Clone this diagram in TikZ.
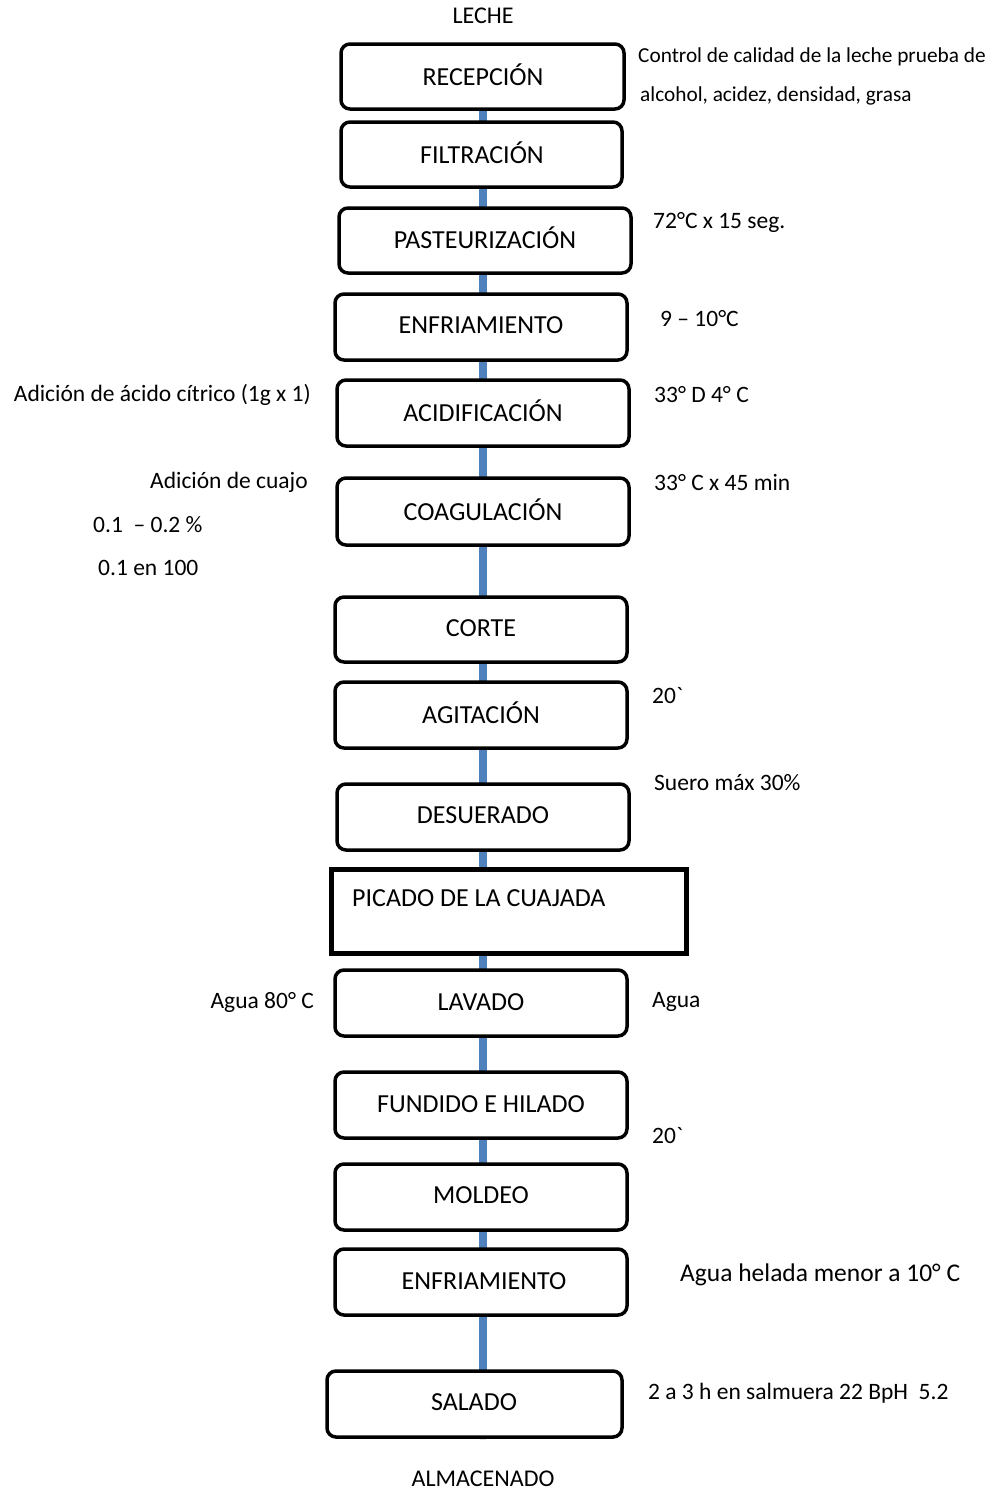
\documentclass[tikz,border=0pt]{standalone}
\usepackage{fontspec}
\setmainfont{Carlito}
\definecolor{flowblue}{HTML}{4F81BD}
\begin{document}
\begin{tikzpicture}[x=1pt,y=-1pt,
  stepbox/.style={draw=black,line width=3.5pt,rounded corners=9pt,fill=white},
  boxtext/.style={font=\fontsize{26}{30}\selectfont,inner sep=0pt},
  side/.style={font=\fontsize{23.5}{28}\selectfont,inner sep=0pt},
  flow/.style={draw=flowblue,line width=8pt}]
\useasboundingbox (0,0) rectangle (994,1492);
% flow line
\coordinate (top) at (483,109);
\coordinate (bot) at (483,1440);
\draw[flow] (top) -- (483,1371);
\draw[draw=black!12,line width=6pt] (483,1437) -- (bot);
% boxes
\draw[stepbox] (341,44) rectangle (624,109);
\draw[stepbox] (341,122) rectangle (622,187);
\draw[stepbox] (339,208) rectangle (631,273);
\draw[stepbox] (335,294) rectangle (627,360);
\draw[stepbox] (337,380) rectangle (629,446);
\draw[stepbox] (337,478) rectangle (629,545);
\draw[stepbox] (335,597) rectangle (627,662);
\draw[stepbox] (335,682) rectangle (627,748);
\draw[stepbox] (337,784) rectangle (629,850);
\draw[draw=black,line width=5pt,fill=white] (331,869) rectangle (686,953);
\draw[stepbox] (335,970) rectangle (627,1036);
\draw[stepbox] (335,1072) rectangle (627,1138);
\draw[stepbox] (335,1164) rectangle (627,1230);
\draw[stepbox] (335,1249) rectangle (627,1315);
\draw[stepbox] (327,1371) rectangle (622,1437);
% box texts
\node[boxtext] (recep) at (483,75) {RECEPCIÓN};
\node[boxtext] (filt) at (482,153) {FILTRACIÓN};
\node[boxtext] (past) at (485,238) {PASTEURIZACIÓN};
\node[boxtext] (enf1) at (481,325) {ENFRIAMIENTO};
\node[boxtext] (acid) at (483,411) {ACIDIFICACIÓN};
\node[boxtext] (coag) at (483,510) {COAGULACIÓN};
\node[boxtext] (corte) at (481,628) {CORTE};
\node[boxtext] (agit) at (481,713) {AGITACIÓN};
\node[boxtext] (desu) at (483,815) {DESUERADO};
\node[boxtext,anchor=west] (pica) at (352,898) {PICADO DE LA CUAJADA};
\node[boxtext] (lava) at (481,1002) {LAVADO};
\node[boxtext] (fund) at (481,1104) {FUNDIDO E HILADO};
\node[boxtext] (mold) at (481,1195) {MOLDEO};
\node[boxtext] (enf2) at (484,1281) {ENFRIAMIENTO};
\node[boxtext] (sala) at (474,1402) {SALADO};
% top / bottom labels
\node[side,font=\fontsize{24}{28}\selectfont] (leche) at (483,16) {LECHE};
\node[side,font=\fontsize{24}{28}\selectfont] (alma) at (483,1479) {ALMACENADO};
% side notes right
\node[side,anchor=west,font=\fontsize{21.3}{26}\selectfont] (n1) at (638,57) {Control de calidad de la leche prueba de};
\node[side,anchor=west,font=\fontsize{21.3}{26}\selectfont] (n2) at (640,96) {alcohol, acidez, densidad, grasa};
\node[side,anchor=west] (n3) at (653,222) {72°C x 15 seg.};
\node[side,anchor=west] (n4) at (660,319) {9 – 10°C};
\node[side,anchor=west] (n5) at (654,395) {33° D 4° C};
\node[side,anchor=west] (n6) at (654,482) {33° C x 45 min};
\node[side,anchor=west] (n7) at (652,696) {20\textasciigrave};
\node[side,anchor=west] (n8) at (654,783) {Suero máx 30\%};
\node[side,anchor=west] (n9) at (652,1002) {Agua};
\node[side,anchor=west] (n10) at (652,1136) {20\textasciigrave};
\node[side,anchor=west,font=\fontsize{25.5}{30}\selectfont] (n11) at (680,1275) {Agua helada menor a 10° C};
\node[side,anchor=west] (n12) at (648,1393) {2 a 3 h en salmuera 22 BpH\ \ 5.2};
% side notes left
\node[side,anchor=east] (l1) at (311,395) {Adición de ácido cítrico (1g x 1)};
\node[side,anchor=east] (l2) at (308,482) {Adición de cuajo};
\node[side,anchor=west] (l3) at (93,525) {0.1\ \ – 0.2 \%};
\node[side,anchor=west] (l4) at (98,568) {0.1 en 100};
\node[side,anchor=east] (l5) at (314,1002) {Agua 80° C};
\end{tikzpicture}
\end{document}
